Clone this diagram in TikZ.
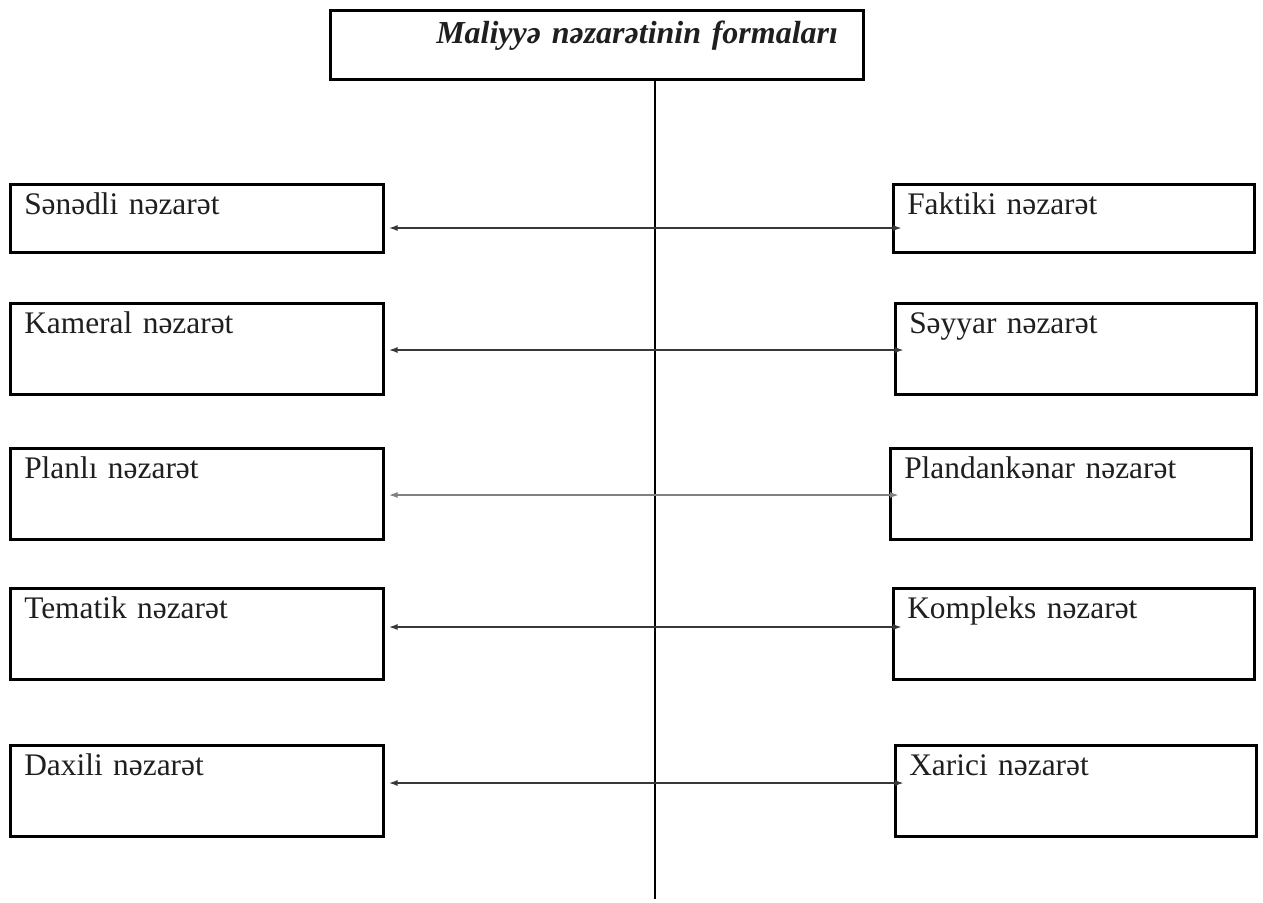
\documentclass[tikz,border=0pt]{standalone}
\usepackage{fontspec}
\setmainfont{Liberation Serif}
\usetikzlibrary{positioning,calc,arrows.meta}
\tikzset{font=\fontsize{15.7}{18}\selectfont}
\tikzset{
	formbox/.style={draw, line width=1.25pt, anchor=north west, align=left,
		text=black!88, inner xsep=7pt, inner ysep=0pt, text height=15pt},
	lowbox/.style={formbox, text depth=19pt},
	highbox/.style={formbox, text depth=30.5pt},
	leftw/.style={text width=172.5pt},
	rightw/.style={text width=166.5pt},
	link/.style={{Latex[length=4.5pt,width=3pt]}-{Latex[length=4.5pt,width=3pt]},
		line width=1pt, black!78, shorten <=2pt, shorten >=-5pt},
}

\begin{document}
\begin{tikzpicture}[x=0.5pt, y=-0.5pt]
	\useasboundingbox (0,0) rectangle (1263,902);
	\begin{scope}
		\node[draw, line width=1.25pt, anchor=north west, align=left, text width=266.5pt,
			inner sep=0pt, text height=16.5pt, text depth=18pt, text=black!88,
			font=\fontsize{16}{18}\selectfont\bfseries\itshape] (top) at (329,9)
			{\hspace*{53pt}Maliyyə nəzarətinin formaları};
		
		\node[lowbox, leftw]   (l1) at (9,183)   {Sənədli nəzarət};
		\node[lowbox, rightw]  (r1) at (892,183) {Faktiki nəzarət};
		\node[highbox, leftw]  (l2) at (9,302)   {Kameral nəzarət};
		\node[highbox, rightw] (r2) at (894,302) {Səyyar nəzarət};
		\node[highbox, leftw]  (l3) at (9,447)   {Planlı nəzarət};
		\node[highbox, rightw] (r3) at (889,447) {Plandankənar nəzarət};
		\node[highbox, leftw]  (l4) at (9,587)   {Tematik nəzarət};
		\node[highbox, rightw] (r4) at (892,587) {Kompleks nəzarət};
		\node[highbox, leftw]  (l5) at (9,744)   {Daxili nəzarət};
		\node[highbox, rightw] (r5) at (894,744) {Xarici nəzarət};
		
		% heights of the links
		\coordinate (a1) at (655,228);
		\coordinate (a2) at (655,350);
		\coordinate (a3) at (655,495);
		\coordinate (a4) at (655,627);
		\coordinate (a5) at (655,783);
		\coordinate (stem) at (655,899);
		
		\draw[line width=1pt] (top.south -| stem) -- (stem);
		\draw[link]           (l1.east |- a1) -- (r1.west |- a1);
		\draw[link]           (l2.east |- a2) -- (r2.west |- a2);
		\draw[link, black!50] (l3.east |- a3) -- (r3.west |- a3);
		\draw[link]           (l4.east |- a4) -- (r4.west |- a4);
		\draw[link]           (l5.east |- a5) -- (r5.west |- a5);
	\end{scope}
\end{tikzpicture}
\end{document}
